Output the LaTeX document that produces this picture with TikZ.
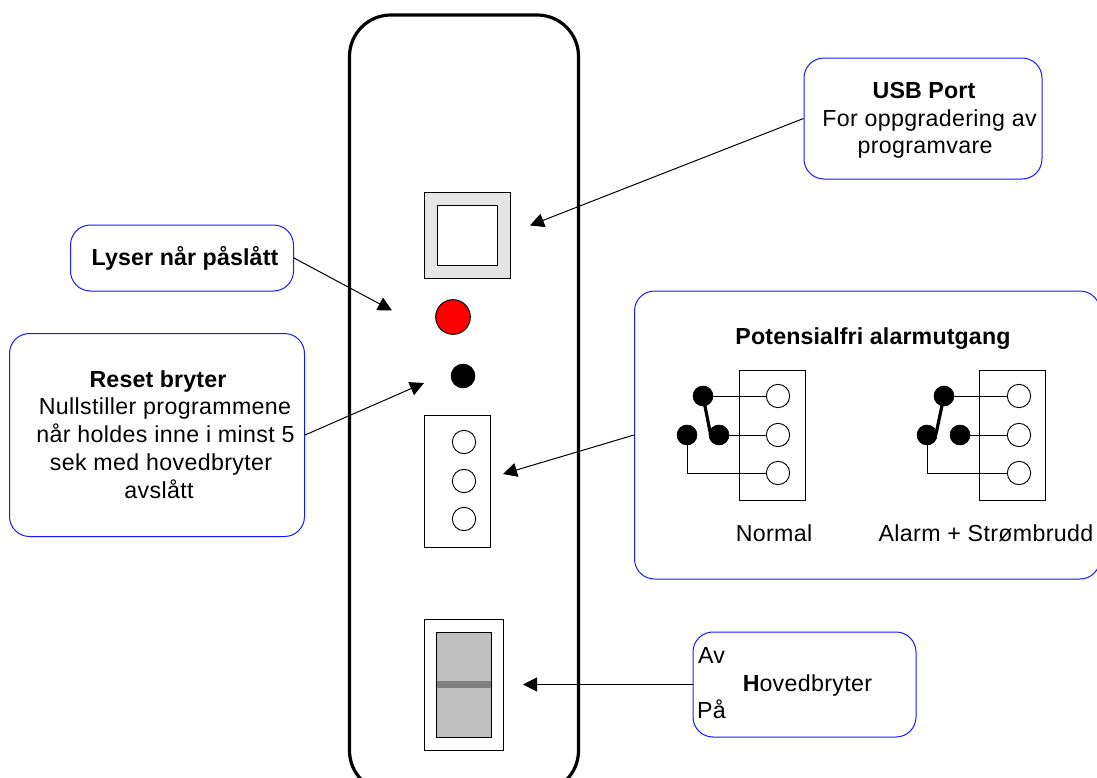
\documentclass[tikz,border=0pt]{standalone}
\usepackage{fontspec}
\setmainfont{Liberation Sans}
\newfontfamily\regf[LetterSpace=1.5]{Liberation Sans}
\newfontfamily\bldf[LetterSpace=0.6]{Liberation Sans Bold}
\usetikzlibrary{arrows.meta,fit}
\tikzset{
  callout/.style={draw=blue!90!white,line width=0.75pt,rounded corners=15pt,inner sep=0pt,fill=white},
  plain/.style={draw=black,line width=0.75pt,inner sep=0pt},
  hole/.style={draw=black,fill=white,circle,line width=0.7pt,inner sep=0pt,minimum size=17.5pt},
  dot/.style={draw=black,fill=black,circle,inner sep=0pt,minimum size=15pt},
  wire/.style={draw=black,line width=0.75pt},
  blade/.style={draw=black,line width=2.4pt},
  pointer/.style={draw=black,line width=0.75pt,-{Triangle[length=10.5pt,width=10.5pt]}},
  reg/.style={anchor=base,inner sep=0pt,font=\fontsize{17.4pt}{17.4pt}\regf},
  bld/.style={anchor=base,inner sep=0pt,font=\fontsize{17.4pt}{17.4pt}\bldf},
}
\begin{document}
\begin{tikzpicture}[x=0.75pt,y=-0.75pt]
\clip (0,0) rectangle (1097,778);
% body
\node[draw=black,line width=2.4pt,rounded corners=31pt,inner sep=0pt,fit={(349.5,15) (578.5,792)}] (body) {};
% USB connector
\node[plain,fill=black!10,fit={(424,192) (510,278)}] (usbo) {};
\node[plain,fill=white,fit={(437,205) (497,265)}] (usbi) {};
% LEDs
\node[draw=black,fill=red,circle,line width=0.75pt,inner sep=0pt,minimum size=26pt] (led) at (453,317) {};
\node[draw=black,fill=black,circle,inner sep=0pt,minimum size=18pt] (reset) at (463,376) {};
% terminal
\node[plain,fit={(424,415) (490,547)}] (term) {};
\node[hole] (th1) at (464,442) {};
\node[hole] (th2) at (464,481) {};
\node[hole] (th3) at (464,519) {};
% main switch
\node[plain,fit={(424,619) (503,750)}] (swo) {};
\node[plain,fill=black!25,fit={(436.5,632) (491,737)}] (swi) {};
\node[fill=black!50,inner sep=0pt,fit={(437,681) (490.5,688)}] (swb) {};
% callouts
\node[callout,fit={(804,58) (1042,179)}] (usbbox) {};
\node[callout,fit={(70.5,225) (293.5,291)}] (lysbox) {};
\node[callout,fit={(9.5,333.5) (304.5,536.5)}] (resbox) {};
\node[callout,fit={(634.5,291) (1100,579)}] (potbox) {};
\node[callout,fit={(693,632) (916,737)}] (hovbox) {};
% arrow targets
\coordinate (tusb) at (530,225.5);
\coordinate (tlys) at (392,310.5);
\coordinate (tres) at (424,383);
\coordinate (tpot) at (503,474);
\coordinate (thov) at (523,684.5);
\draw[pointer] (usbbox.west) -- (tusb);
\draw[pointer] (lysbox.east) -- (tlys);
\draw[pointer] (resbox.east) -- (tres);
\draw[pointer] (potbox.west) -- (tpot);
\draw[pointer] (hovbox.west) -- (thov);
% Normal diagram
\node[plain,fit={(739,370) (805,500)}] (na) {};
\node[hole] (nh1) at (778,396) {};
\node[hole] (nh2) at (778,435) {};
\node[hole] (nh3) at (778,473) {};
\node[dot] (nt) at (703,396) {};
\node[dot] (nl) at (687,435) {};
\node[dot] (nr) at (719,435) {};
\draw[wire] (nt) -- (nh1);
\draw[wire] (nr) -- (nh2);
\draw[wire] (nl) |- (nh3);
\coordinate (nbe) at (710.5,434);
\draw[blade] (nt.center) -- (nbe);
% Alarm diagram
\node[plain,fit={(979,370) (1045.5,500)}] (aa) {};
\node[hole] (ah1) at (1019,396) {};
\node[hole] (ah2) at (1019,435) {};
\node[hole] (ah3) at (1019,473) {};
\node[dot] (at) at (944,396) {};
\node[dot] (al) at (927,435) {};
\node[dot] (ar) at (960,435) {};
\draw[wire] (at) -- (ah1);
\draw[wire] (ar) -- (ah2);
\draw[wire] (al) |- (ah3);
\coordinate (abe) at (936,434);
\draw[blade] (at.center) -- (abe);
% texts
\node[bld] (t1) at (924,98) {USB Port};
\node[reg] (t2) at (929.5,126) {For oppgradering av};
\node[reg] (t3) at (925,153) {programvare};
\node[bld] (t4) at (185,265) {Lyser når påslått};
\node[bld] (t5) at (158,387) {Reset bryter};
\node[reg] (t6) at (165,414) {Nullstiller programmene};
\node[reg] (t7) at (165.5,442) {når holdes inne i minst 5};
\node[reg] (t8) at (161,470) {sek med hovedbryter};
\node[reg] (t9) at (159,498) {avslått};
\node[bld] (t10) at (873,344) {Potensialfri alarmutgang};
\node[reg] (t11) at (774,541) {Normal};
\node[reg] (t12) at (986,541) {Alarm + Strømbrudd};
\node[reg] (t13) at (711.5,663) {Av};
\node[reg] (t14) at (711.5,718) {På};
\node[reg] (t15) at (807.5,691) {{\bldf H}ovedbryter};
\end{tikzpicture}
\end{document}
